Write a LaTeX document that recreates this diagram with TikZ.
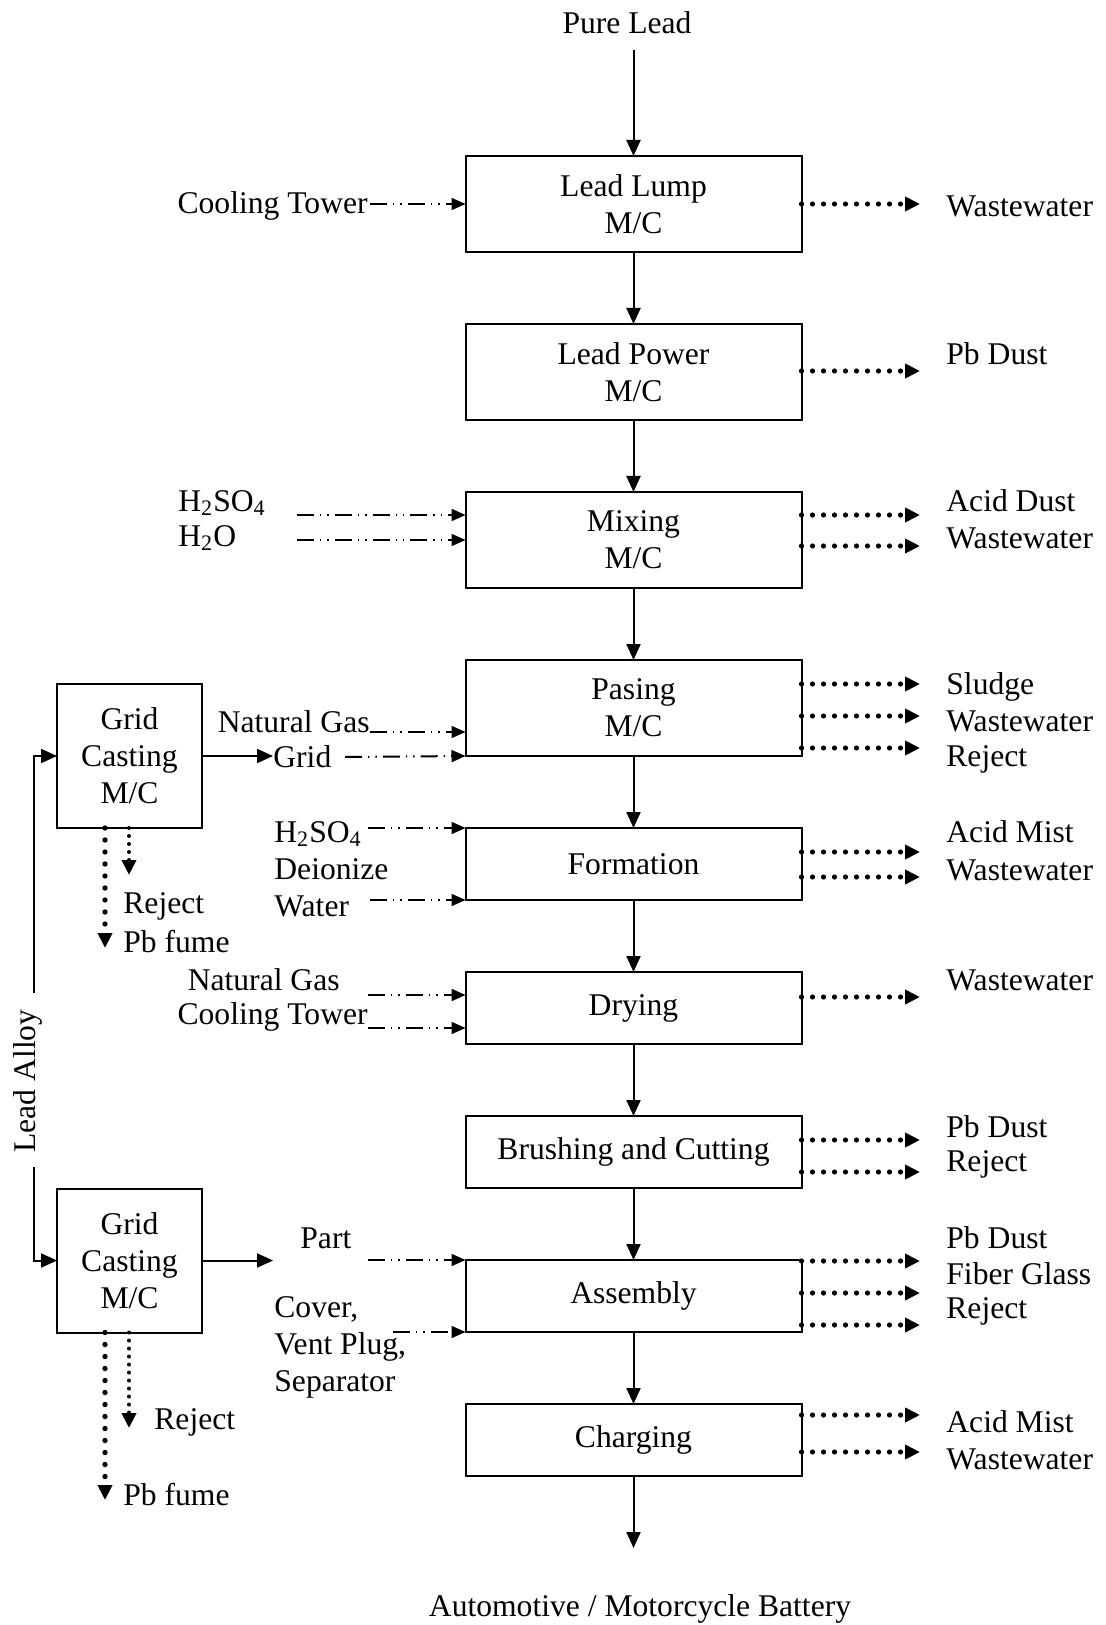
\documentclass[tikz,border=0pt]{standalone}
\usepackage{fontspec}
\setmainfont{Liberation Serif}
\usetikzlibrary{positioning, arrows.meta}
\tikzset{
  procbox/.style={
    rectangle, draw=black, line width=1pt, outer sep=0pt,
    minimum width=168pt, minimum height=36pt,
    align=center, inner sep=3pt
  },
  procbox-tall/.style={procbox, minimum height=48pt},
  castbox/.style={procbox, minimum width=72.5pt, minimum height=72pt},
  txt/.style={inner sep=0pt, align=left},
  mainarrow/.style={
    -{Triangle[length=8pt,width=7pt]}, line width=1pt
  },
  feedarrow/.style={
    -{Triangle[length=7pt,width=6pt]}, line width=1pt,
    dash pattern=on 8.5pt off 3pt on 0.7pt off 3pt on 0.7pt off 3pt
  },
  wastearrow/.style={
    -{Triangle[length=7.5pt,width=7pt]}, line width=2.6pt,
    line cap=round, dash pattern=on 0pt off 5.5pt
  },
  fumearrow/.style={wastearrow, line width=2.7pt, dash pattern=on 0pt off 6pt},
  rejectarrow/.style={wastearrow, line width=2pt, dash pattern=on 0pt off 4pt}
}
\begin{document}
\begin{tikzpicture}[x=0.5pt, y=-0.5pt, node distance=36pt,
    font=\fontsize{15.8pt}{18.5pt}\selectfont]
  \useasboundingbox (0,0) rectangle (1105,1625);

  % main process line
  \node[txt] (pure) at (627,23) {Pure Lead};
  \node[procbox-tall] (lump) at (633.5,204) {Lead Lump\\M/C};
  \node[procbox-tall, below=of lump] (powder) {Lead Power\\M/C};
  \node[procbox-tall, below=of powder] (mixing) {Mixing\\M/C};
  \node[procbox-tall, below=of mixing] (pasing) {Pasing\\M/C};
  \node[procbox, below=of pasing] (formation) {Formation};
  \node[procbox, below=of formation] (drying) {Drying};
  \node[procbox, below=of drying] (brushing) {Brushing and Cutting};
  \node[procbox, below=of brushing] (assembly) {Assembly};
  \node[procbox, below=of assembly] (charging) {Charging};
  \node[txt] (battery) at (640,1609) {Automotive / Motorcycle Battery};

  \coordinate (pure-out) at (633.5,50);
  \coordinate (c-end) at (633.5,1548);
  \draw[mainarrow] (pure-out) -- (lump);
  \draw[mainarrow] (lump) -- (powder);
  \draw[mainarrow] (powder) -- (mixing);
  \draw[mainarrow] (mixing) -- (pasing);
  \draw[mainarrow] (pasing) -- (formation);
  \draw[mainarrow] (formation) -- (drying);
  \draw[mainarrow] (drying) -- (brushing);
  \draw[mainarrow] (brushing) -- (assembly);
  \draw[mainarrow] (assembly) -- (charging);
  \draw[mainarrow] (charging) -- (c-end);

  % grid casting machines
  \node[castbox] (cast1) at (129.5,756) {Grid\\Casting\\M/C};
  \node[castbox] (cast2) at (129.5,1260.5) {Grid\\Casting\\M/C};
  \node[txt, rotate=90, anchor=base] (alloy) at (35,1081) {Lead Alloy};
  \coordinate (a-top) at (34,993);
  \coordinate (a-bot) at (34,1167);
  \draw[mainarrow] (a-top) |- (cast1.west);
  \draw[mainarrow] (a-bot) |- (cast2.west);

  \node[txt, anchor=west] (rej1) at (123,906) {Reject};
  \node[txt, anchor=west] (fume1) at (123,942) {Pb fume};
  \node[txt, anchor=west] (rej2) at (154,1422) {Reject};
  \node[txt, anchor=west] (fume2) at (123,1495) {Pb fume};
  \coordinate (f1) at (105,948);
  \coordinate (r1) at (129,875);
  \coordinate (f2) at (105,1500);
  \coordinate (r2) at (129,1428);
  \draw[fumearrow] (f1 |- cast1.south) -- (f1);
  \draw[rejectarrow] (r1 |- cast1.south) -- (r1);
  \draw[fumearrow] (f2 |- cast2.south) -- (f2);
  \draw[rejectarrow] (r2 |- cast2.south) -- (r2);

  % inputs
  \node[txt, anchor=east] (ct1) at (368,206) {Cooling Tower};
  \node[txt, anchor=west] (acid1) at (178,503) {H\textsubscript{2}SO\textsubscript{4}};
  \node[txt, anchor=west] (water1) at (178,538) {H\textsubscript{2}O};
  \node[txt, anchor=east] (gas1) at (370,722) {Natural Gas};
  \node[txt, anchor=west] (grid) at (273,757) {Grid};
  \node[txt, anchor=west] (acid2) at (274,869) {H\textsubscript{2}SO\textsubscript{4}\\Deionize\\Water};
  \node[txt, anchor=east] (gas2) at (340,980) {Natural Gas};
  \node[txt, anchor=east] (ct2) at (368,1017) {Cooling Tower};
  \node[txt, anchor=west] (part) at (300,1238) {Part};
  \node[txt, anchor=west] (cover) at (274,1347) {Cover,\\Vent Plug,\\Separator};

  \coordinate (c-lump) at (370,204);
  \coordinate (c-mix1) at (297,515);
  \coordinate (c-mix2) at (297,540);
  \coordinate (c-gas) at (370,732);
  \coordinate (c-grid) at (345,757);
  \coordinate (c-acid) at (368,828);
  \coordinate (c-water) at (370,900);
  \coordinate (c-dry1) at (368,995);
  \coordinate (c-dry2) at (368,1028);
  \coordinate (c-part) at (368,1260);
  \coordinate (c-cover) at (393,1332);
  \coordinate (p-out) at (273,1260.5);

  \draw[mainarrow] (cast1.east) -- (cast1.east -| grid.west);
  \draw[mainarrow] (cast2.east) -- (p-out);
  \draw[feedarrow] (c-lump) -- (c-lump -| lump.west);
  \draw[feedarrow] (c-mix1) -- (c-mix1 -| mixing.west);
  \draw[feedarrow] (c-mix2) -- (c-mix2 -| mixing.west);
  \draw[feedarrow] (c-gas) -- (c-gas -| pasing.west);
  \draw[feedarrow] (c-grid) -- (pasing.south west);
  \draw[feedarrow] (c-acid) -- (formation.north west);
  \draw[feedarrow] (c-water) -- (formation.south west);
  \draw[feedarrow] (c-dry1) -- (c-dry1 -| drying.west);
  \draw[feedarrow] (c-dry2) -- (c-dry2 -| drying.west);
  \draw[feedarrow] (c-part) -- (assembly.north west);
  \draw[feedarrow] (c-cover) -- (assembly.south west);

  % outputs
  \node[txt, anchor=west] (o-ww1) at (946,206) {Wastewater};
  \node[txt, anchor=west] (o-dust1) at (946,354) {Pb Dust};
  \node[txt, anchor=west] (o-acid1) at (946,501) {Acid Dust};
  \node[txt, anchor=west] (o-ww2) at (946,538) {Wastewater};
  \node[txt, anchor=west] (o-sludge) at (946,687) {Sludge};
  \node[txt, anchor=west] (o-ww3) at (946,721) {Wastewater};
  \node[txt, anchor=west] (o-rej1) at (946,759) {Reject};
  \node[txt, anchor=west] (o-mist1) at (946,832) {Acid Mist};
  \node[txt, anchor=west] (o-ww4) at (946,870) {Wastewater};
  \node[txt, anchor=west] (o-ww5) at (946,980) {Wastewater};
  \node[txt, anchor=west] (o-dust2) at (946,1127) {Pb Dust};
  \node[txt, anchor=west] (o-rej2) at (946,1164) {Reject};
  \node[txt, anchor=west] (o-dust3) at (946,1238) {Pb Dust};
  \node[txt, anchor=west] (o-fiber) at (946,1274) {Fiber Glass};
  \node[txt, anchor=west] (o-rej3) at (946,1311) {Reject};
  \node[txt, anchor=west] (o-mist2) at (946,1422) {Acid Mist};
  \node[txt, anchor=west] (o-ww6) at (946,1459) {Wastewater};

  \coordinate (w-lump) at (920,204);
  \coordinate (w-powder) at (920,371);
  \coordinate (w-mix1) at (920,515);
  \coordinate (w-mix2) at (920,546);
  \coordinate (w-pas1) at (920,684);
  \coordinate (w-pas2) at (920,716);
  \coordinate (w-pas3) at (920,748);
  \coordinate (w-form1) at (920,852);
  \coordinate (w-form2) at (920,877);
  \coordinate (w-dry) at (920,997);
  \coordinate (w-brush1) at (920,1140);
  \coordinate (w-brush2) at (920,1172);
  \coordinate (w-asm1) at (920,1261);
  \coordinate (w-asm2) at (920,1293);
  \coordinate (w-asm3) at (920,1325);
  \coordinate (w-chg1) at (920,1415);
  \coordinate (w-chg2) at (920,1452);

  \draw[wastearrow] (w-lump -| lump.east) -- (w-lump);
  \draw[wastearrow] (w-powder -| powder.east) -- (w-powder);
  \draw[wastearrow] (w-mix1 -| mixing.east) -- (w-mix1);
  \draw[wastearrow] (w-mix2 -| mixing.east) -- (w-mix2);
  \draw[wastearrow] (w-pas1 -| pasing.east) -- (w-pas1);
  \draw[wastearrow] (w-pas2 -| pasing.east) -- (w-pas2);
  \draw[wastearrow] (w-pas3 -| pasing.east) -- (w-pas3);
  \draw[wastearrow] (w-form1 -| formation.east) -- (w-form1);
  \draw[wastearrow] (w-form2 -| formation.east) -- (w-form2);
  \draw[wastearrow] (w-dry -| drying.east) -- (w-dry);
  \draw[wastearrow] (w-brush1 -| brushing.east) -- (w-brush1);
  \draw[wastearrow] (w-brush2 -| brushing.east) -- (w-brush2);
  \draw[wastearrow] (w-asm1 -| assembly.east) -- (w-asm1);
  \draw[wastearrow] (w-asm2 -| assembly.east) -- (w-asm2);
  \draw[wastearrow] (w-asm3 -| assembly.east) -- (w-asm3);
  \draw[wastearrow] (w-chg1 -| charging.east) -- (w-chg1);
  \draw[wastearrow] (w-chg2 -| charging.east) -- (w-chg2);
\end{tikzpicture}
\end{document}
